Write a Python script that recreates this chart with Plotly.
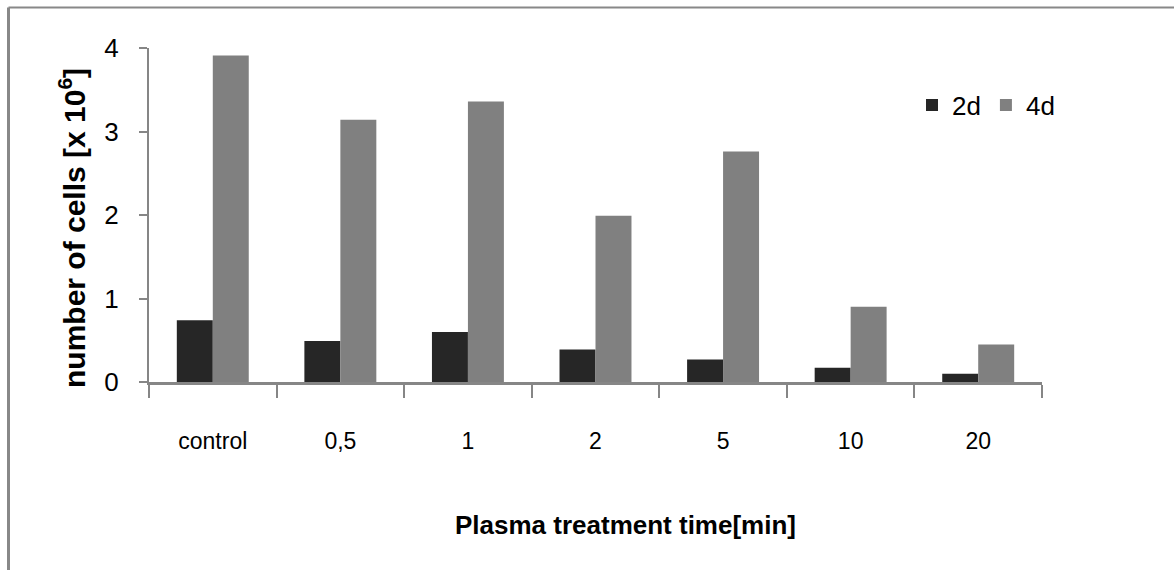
import plotly.graph_objects as go

categories = ["control", "0,5", "1", "2", "5", "10", "20"]
vals_2d = [0.74, 0.49, 0.60, 0.39, 0.27, 0.17, 0.10]
vals_4d = [3.91, 3.14, 3.36, 1.99, 2.76, 0.90, 0.45]
series_names = ["2d", "4d"]
y_ticks = [0, 1, 2, 3, 4]

W, H = 1174, 570
ML, MR, MT, MB = 149, 132, 48, 188
PW, PH = W - ML - MR, H - MT - MB

def px_x(p):
    return (p - ML) / PW

def px_y(p):
    return (H - MB - p) / PH

FONT = "Liberation Sans Narrow, Liberation Sans, Arial, sans-serif"
AXC = "#868686"

fig = go.Figure()
fig.add_trace(go.Bar(x=categories, y=vals_2d, name=series_names[0], marker=dict(color="#262626", line=dict(width=0))))
fig.add_trace(go.Bar(x=categories, y=vals_4d, name=series_names[1], marker=dict(color="#808080", line=dict(width=0))))

fig.update_layout(
    width=W, height=H,
    margin=dict(l=ML, r=MR, t=MT, b=MB, pad=0),
    paper_bgcolor="white", plot_bgcolor="white",
    barmode="group", bargap=0.436, bargroupgap=0,
    font=dict(family=FONT, color="black", size=22),
    legend=dict(orientation="h", x=px_x(912), y=px_y(105), xanchor="left", yanchor="middle",
                font=dict(size=26, family=FONT), bgcolor="rgba(0,0,0,0)",
                itemwidth=30, traceorder="normal"),
    showlegend=True,
)
fig.update_xaxes(
    type="category", showline=True, linecolor=AXC, linewidth=3,
    ticks="outside", tickson="boundaries", ticklen=13, tickwidth=2, tickcolor=AXC,
    showgrid=False, zeroline=False, ticklabelstandoff=36,
    tickfont=dict(size=23, family=FONT),
)
fig.update_yaxes(
    range=[0, 4], tickvals=y_ticks, showline=True, linecolor=AXC, linewidth=2,
    ticks="outside", ticklen=8, tickwidth=2, tickcolor=AXC,
    showgrid=False, zeroline=False, ticklabelstandoff=15,
    tickfont=dict(size=26, family=FONT),
)

fig.add_annotation(text="<b>number of cells [x 10<sup>6</sup>]</b>", xref="paper", yref="paper",
                   x=px_x(72), y=px_y(228), xanchor="center", yanchor="middle", textangle=-90,
                   showarrow=False, font=dict(size=30, family=FONT, color="black"))
fig.add_annotation(text="<b>Plasma treatment time[min]</b>", xref="paper", yref="paper",
                   x=px_x(625), y=px_y(525), xanchor="center", yanchor="middle",
                   showarrow=False, font=dict(size=26, family=FONT, color="black"))

fig.add_shape(type="line", xref="paper", yref="paper", x0=px_x(8.5), x1=px_x(8.5), y0=px_y(7.5), y1=px_y(572),
              line=dict(color="#888888", width=3))
fig.add_shape(type="line", xref="paper", yref="paper", x0=px_x(8.5), x1=px_x(1176), y0=px_y(7.5), y1=px_y(7.5),
              line=dict(color="#888888", width=2))

fig.write_html("out.html", config={"displayModeBar": False},
               post_script="document.body.style.margin='0';document.body.style.padding='0';")
